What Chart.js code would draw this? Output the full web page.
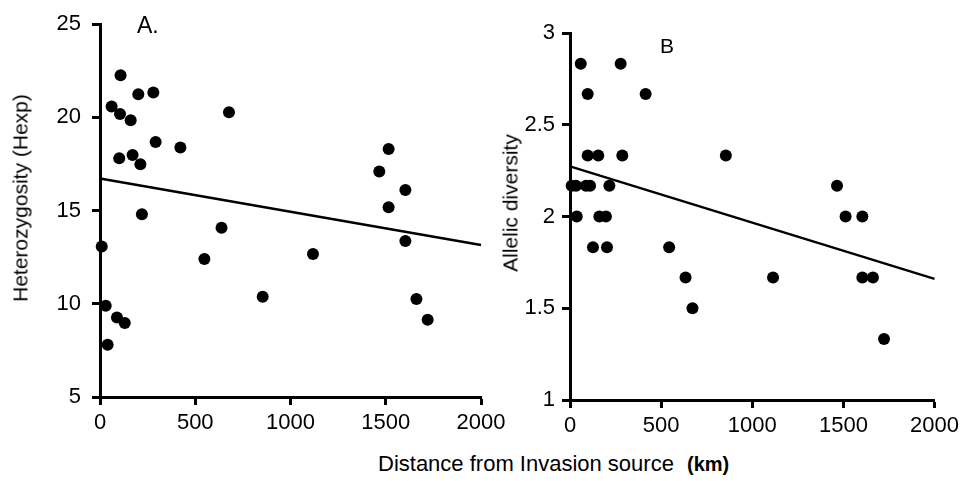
<!DOCTYPE html>
<html>
<head>
<meta charset="utf-8">
<title>Diversity vs distance from invasion source</title>
<script src="https://cdn.jsdelivr.net/npm/chart.js@4/dist/chart.umd.min.js"></script>
<style>
  body { margin: 0; background: #fff; }
  #wrap { position: relative; width: 964px; height: 481px; overflow: hidden;
          font-family: "Liberation Sans", Arial, sans-serif; color: #000; }
  canvas { position: absolute; top: 0; }
  #chart-a { left: 0; }
  #chart-b { left: 470px; }
  .lbl { position: absolute; line-height: 1; white-space: nowrap; }
  .ytitle { font-size: 21px; transform: translate(-50%, -50%) rotate(-90deg); }
</style>
</head>
<body>
<div id="wrap">
  <canvas id="chart-a" width="520" height="450"></canvas>
  <canvas id="chart-b" width="494" height="450"></canvas>

  <div class="lbl ytitle" style="left:20px; top:198px;">Heterozygosity (Hexp)</div>
  <div class="lbl ytitle" style="left:510px; top:203px;">Allelic diversity</div>
  <div class="lbl" style="left:137px; top:14px; font-size:23px;">A.</div>
  <div class="lbl" style="left:660px; top:35px; font-size:21px;">B</div>
  <div class="lbl" style="left:378px; top:453px; font-size:22px;">Distance from Invasion source</div>
  <div class="lbl" style="left:687px; top:454px; font-size:20px; font-weight:bold;">(km)</div>
</div>

<script>
/* ---------------- Data ---------------- */

// Panel A: heterozygosity
const aDistance = [108, 61, 105, 161, 201, 280, 677, 292, 422, 101, 171, 212, 220, 638, 9,
                   548, 854, 30, 89, 130, 40, 1118, 1515, 1466, 1603, 1515, 1603, 1661, 1720];
const aHexp = [22.26, 20.58, 20.18, 19.85, 21.24, 21.34, 20.27, 18.68, 18.39, 17.81, 17.98, 17.49, 14.8, 14.08, 13.07,
               12.4, 10.38, 9.89, 9.27, 8.97, 7.8, 12.67, 18.3, 17.1, 16.1, 15.18, 13.37, 10.26, 9.15];
const aFitX = [0, 2000];
const aFitY = [16.72, 13.15];
const aTicksY = [5, 25, 5];   // min, max, step

// Panel B: allelic diversity
const bDistance = [59, 278, 97, 415, 97, 155, 287, 9, 33, 88, 110, 216, 37, 161, 197,
                   126, 203, 544, 634, 672, 855, 1465, 1512, 1604, 1114, 1604, 1662, 1723];
const bAllelic = [2.833, 2.833, 2.667, 2.667, 2.333, 2.333, 2.333, 2.167, 2.167, 2.167, 2.167, 2.167, 2.0, 2.0, 2.0,
                  1.833, 1.833, 1.833, 1.667, 1.5, 2.333, 2.167, 2.0, 2.0, 1.667, 1.667, 1.667, 1.333];
const bFitX = [0, 2000];
const bFitY = [2.273, 1.66];
const bTicksY = [1, 3, 0.5];

const distTicks = [0, 2000, 500];

/* ---------------- Chart building ---------------- */

const FONT = "'Liberation Sans', Arial, sans-serif";

function toPoints(xs, ys) {
  return xs.map((x, i) => ({ x: x, y: ys[i] }));
}

function panel(id, o) {
  const tickFont = { family: FONT, size: 22 };
  return new Chart(document.getElementById(id), {
    type: "scatter",
    data: {
      datasets: [
        {
          data: toPoints(o.x, o.y),
          backgroundColor: "#000",
          borderWidth: 0,
          pointRadius: 6,
          pointHoverRadius: 6,
          clip: false
        },
        {
          type: "line",
          data: toPoints(o.fitX, o.fitY),
          borderColor: "#000",
          borderWidth: 2.5,
          pointRadius: 0,
          fill: false,
          clip: false
        }
      ]
    },
    options: {
      responsive: false,
      animation: false,
      events: [],
      layout: { padding: o.pad },
      plugins: { legend: { display: false }, tooltip: { enabled: false } },
      scales: {
        x: {
          type: "linear",
          min: distTicks[0], max: distTicks[1],
          ticks: { stepSize: distTicks[2], color: "#000", font: tickFont, padding: 5, maxRotation: 0,
                   callback: v => String(v) },
          grid: { drawOnChartArea: false, tickLength: 8, tickWidth: 3, tickColor: "#000" },
          border: { color: "#000", width: 3 },
          afterFit: s => { s.height = o.xHeight; }
        },
        y: {
          type: "linear",
          min: o.yTicks[0], max: o.yTicks[1],
          ticks: { stepSize: o.yTicks[2], color: "#000", font: tickFont, padding: o.yPad,
                   callback: v => String(v) },
          grid: { drawOnChartArea: false, tickLength: 8, tickWidth: 3, tickColor: "#000" },
          border: { color: "#000", width: 3 },
          afterFit: s => { s.width = 100; }
        }
      }
    }
  });
}

panel("chart-a", {
  x: aDistance, y: aHexp, fitX: aFitX, fitY: aFitY, yTicks: aTicksY,
  pad: { left: 0, top: 18, right: 39, bottom: 0 }, xHeight: 53, yPad: 11
});

panel("chart-b", {
  x: bDistance, y: bAllelic, fitX: bFitX, fitY: bFitY, yTicks: bTicksY,
  pad: { left: 0, top: 33, right: 29, bottom: 0 }, xHeight: 50, yPad: 7
});
</script>
</body>
</html>
